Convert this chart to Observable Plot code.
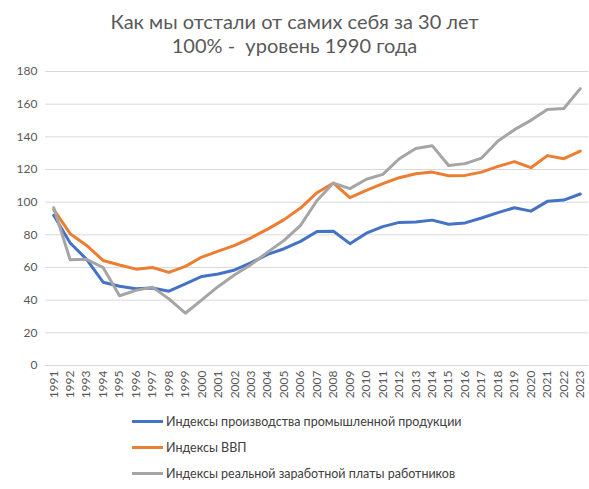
<!DOCTYPE html>
<html>
<head>
<meta charset="utf-8">
<script src="https://cdn.jsdelivr.net/npm/d3@7"></script>
<script src="https://cdn.jsdelivr.net/npm/@observablehq/plot@0.6"></script>
<style>
  body { margin: 0; background: #fff; font-family: Lato, "Open Sans", sans-serif; }
  #wrap { width: 589px; height: 489px; position: relative; overflow: hidden; }
  #title { height: 60px; text-align: center; color: #595959; font-size: 20px; line-height: 24px; padding-top: 9px; box-sizing: border-box; }
  #legend { position: absolute; left: 132px; top: 409px; color: #404040; font-size: 12.5px; }
  .row { display: flex; align-items: center; height: 25.8px; }
  .sw { width: 31px; height: 3px; margin-right: 3px; }
</style>
</head>
<body>
<div id="wrap">
  <div id="title">Как мы отстали от самих себя за 30 лет<br>100% -&nbsp; уровень 1990 года</div>
  <div id="chart"></div>
  <div id="legend"></div>
</div>
<script>
const years = [1991,1992,1993,1994,1995,1996,1997,1998,1999,2000,2001,2002,2003,2004,2005,2006,2007,2008,2009,2010,2011,2012,2013,2014,2015,2016,2017,2018,2019,2020,2021,2022,2023];
const yTicks = [0,20,40,60,80,100,120,140,160,180];
const seriesNames = ["Индексы производства промышленной продукции", "Индексы ВВП", "Индексы реальной заработной платы работников"];
const seriesColors = ["#4472C4", "#ED7D31", "#A5A5A5"];
const industry = [92,75,65,51,48.5,47,47.5,45.5,50,54.5,56,58.5,63,68,71.5,76,82,82.2,74.6,81,85,87.6,87.8,89,86.5,87.3,90.3,93.6,96.6,94.5,100.5,101.3,105];
const gdp = [95.4,80.7,73.5,64.3,61.5,59,60,57,60.7,66.4,70,73.5,78.2,83.5,89.3,96.4,105.8,111.7,102.8,107.2,111.3,115,117.4,118.4,116.2,116.4,118.4,121.9,124.8,121.1,128.5,126.6,131.3];
const wages = [96.6,64.7,65,60,42.7,46,48,40.8,32,40.2,48.4,55.6,61.9,69.4,76.6,85.8,101,111.7,108.3,114,117,126.6,132.8,134.6,122.4,123.6,127,137.5,144.4,150.1,156.7,157.3,169.5];

const seriesValues = [industry, gdp, wages];
const rows = [];
seriesValues.forEach((vals, i) => vals.forEach((v, j) => rows.push({year: years[j], value: v, series: seriesNames[i]})));

const chart = Plot.plot({
  width: 589,
  height: 350,
  marginTop: 11,
  marginBottom: 45,
  marginLeft: 45,
  marginRight: 1,
  style: { fontFamily: "Lato, 'Open Sans', sans-serif", background: "#fff" },
  x: { type: "linear", domain: [years[0] - 0.5, years[years.length - 1] + 0.5] },
  y: { domain: [yTicks[0], yTicks[yTicks.length - 1]] },
  color: { domain: seriesNames, range: seriesColors },
  marks: [
    Plot.ruleY(yTicks, { stroke: "#D9D9D9", strokeWidth: 1 }),
    Plot.axisY({ ticks: yTicks, tickSize: 0, tickPadding: 8, fontSize: 12, color: "#595959", label: null }),
    Plot.axisX({ ticks: years, tickFormat: d => String(d), tickRotate: -90, tickSize: 0, tickPadding: 5, fontSize: 12, color: "#595959", label: null }),
    Plot.lineY(rows, { x: "year", y: "value", z: "series", stroke: "series", strokeWidth: 3, strokeLinejoin: "round", strokeLinecap: "round" })
  ]
});
document.getElementById("chart").appendChild(chart);

const legend = document.getElementById("legend");
seriesNames.forEach((name, i) => {
  const r = document.createElement("div");
  r.className = "row";
  const s = document.createElement("div");
  s.className = "sw";
  s.style.background = seriesColors[i];
  const t = document.createElement("span");
  t.textContent = name;
  r.appendChild(s); r.appendChild(t);
  legend.appendChild(r);
});
</script>
</body>
</html>
